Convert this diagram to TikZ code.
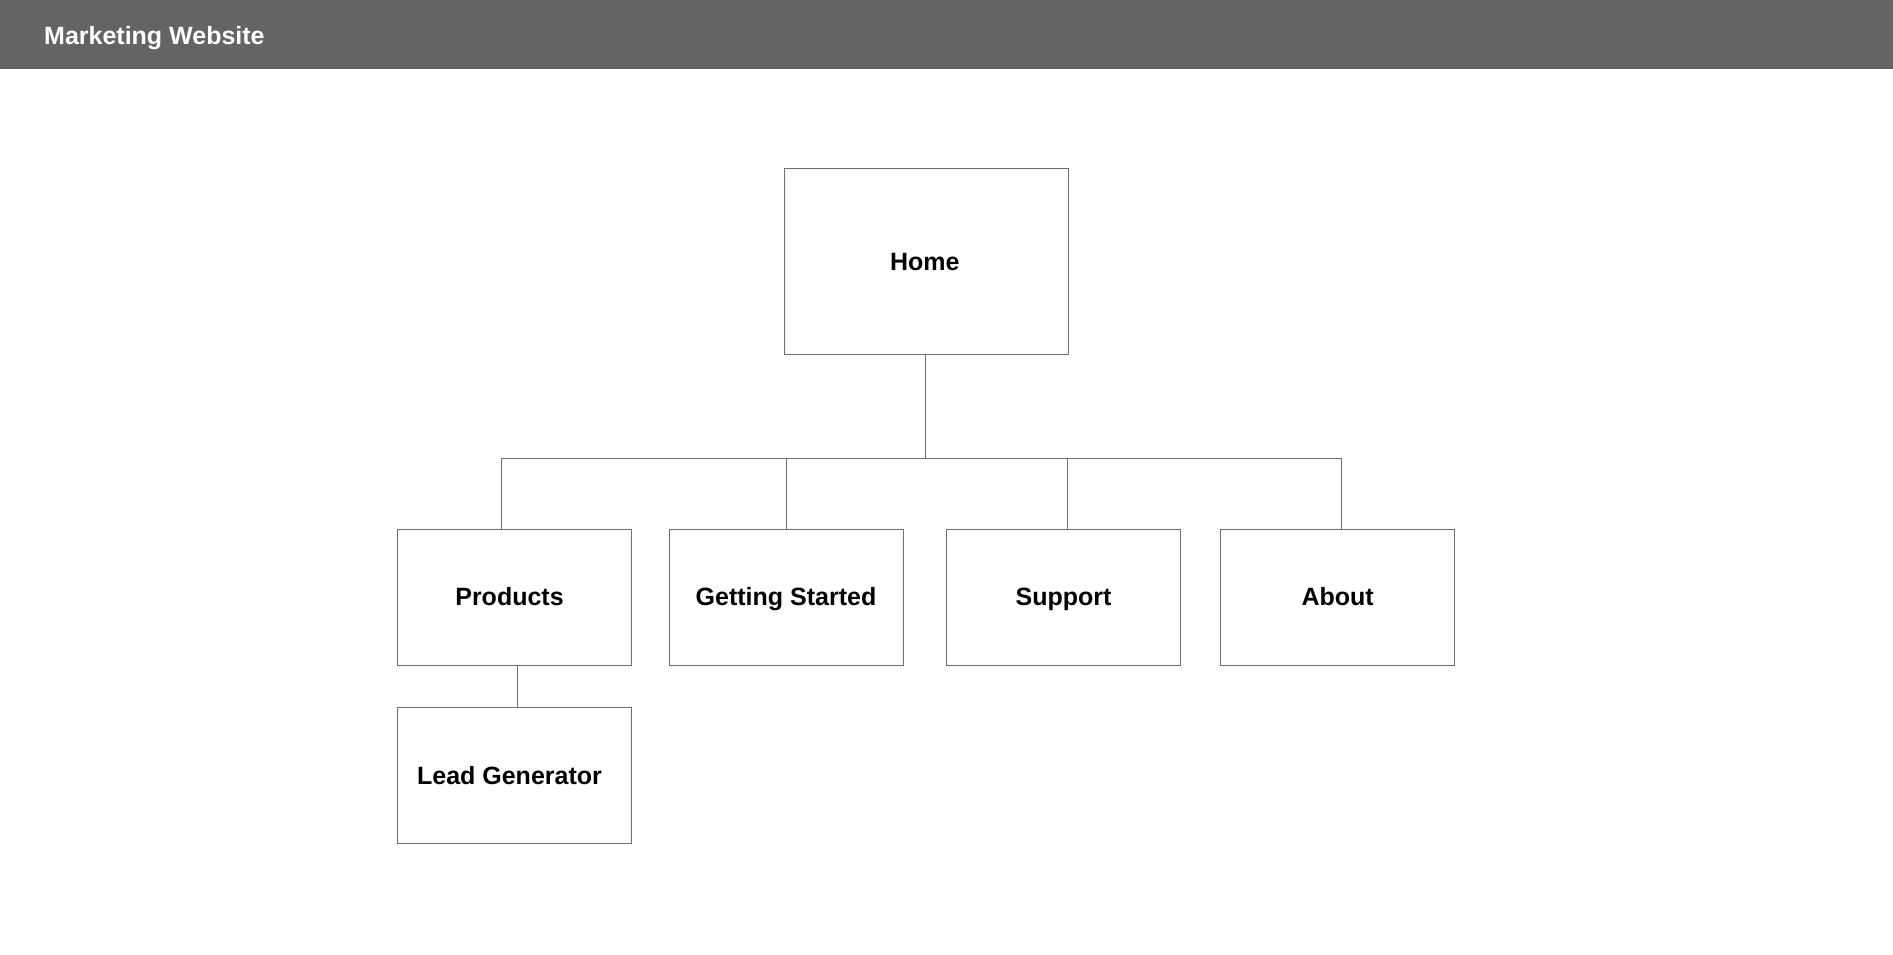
\documentclass[tikz,border=0pt]{standalone}
\usepackage{fontspec}
\setmainfont{Liberation Sans}
\begin{document}
\begin{tikzpicture}[x=1pt,y=-1pt,
  pagebox/.style={draw=linegray, line width=1pt, fill=white, rectangle, inner sep=0pt,
    text height=17.9pt, text depth=0pt,
    font=\fontsize{25}{30}\selectfont\bfseries, text=black},
  link/.style={draw=linegray, line width=1pt}]
\definecolor{linegray}{HTML}{6E6E6E}
\definecolor{headgray}{HTML}{646464}
\useasboundingbox (0,0) rectangle (1893,954);
\fill[white] (0,0) rectangle (1893,954);
\fill[headgray] (0,0) rectangle (1893,68.7);
\node[anchor=west, text=white, font=\fontsize{25}{30}\selectfont\bfseries, inner sep=0pt,
  text height=17.9pt, text depth=0pt] (title) at (44,35.3) {Marketing Website};

\node[pagebox, minimum width=284.4pt, minimum height=185.7pt] (home) at (926.5,261.2) {\hspace*{-3.4pt}Home};
\node[pagebox, minimum width=234pt, minimum height=136pt] (prod) at (514,597) {\hspace*{-9pt}Products};
\node[pagebox, minimum width=234pt, minimum height=136pt] (gs) at (786,597) {Getting Started};
\node[pagebox, minimum width=234pt, minimum height=136pt] (sup) at (1063.6,597) {Support};
\node[pagebox, minimum width=234pt, minimum height=136pt] (about) at (1337.7,597) {About};
\node[pagebox, minimum width=234pt, minimum height=136pt] (lead) at (514,775.8) {\hspace*{-9pt}Lead Generator};

\coordinate (bus) at (925.3,458.3);
\draw[link] ([xshift=-1.2pt]home.south) -- ([xshift=-1.2pt]home.south |- bus);
\draw[link] ([xshift=-13pt]prod.north) |- ([xshift=3.5pt]about.north |- bus) -- ([xshift=3.5pt]about.north);
\draw[link] (gs.north) -- (gs.north |- bus);
\draw[link] ([xshift=3.4pt]sup.north) -- ([xshift=3.4pt]sup.north |- bus);
\draw[link] ([xshift=3pt]prod.south) -- ([xshift=3pt]lead.north);
\end{tikzpicture}
\end{document}
